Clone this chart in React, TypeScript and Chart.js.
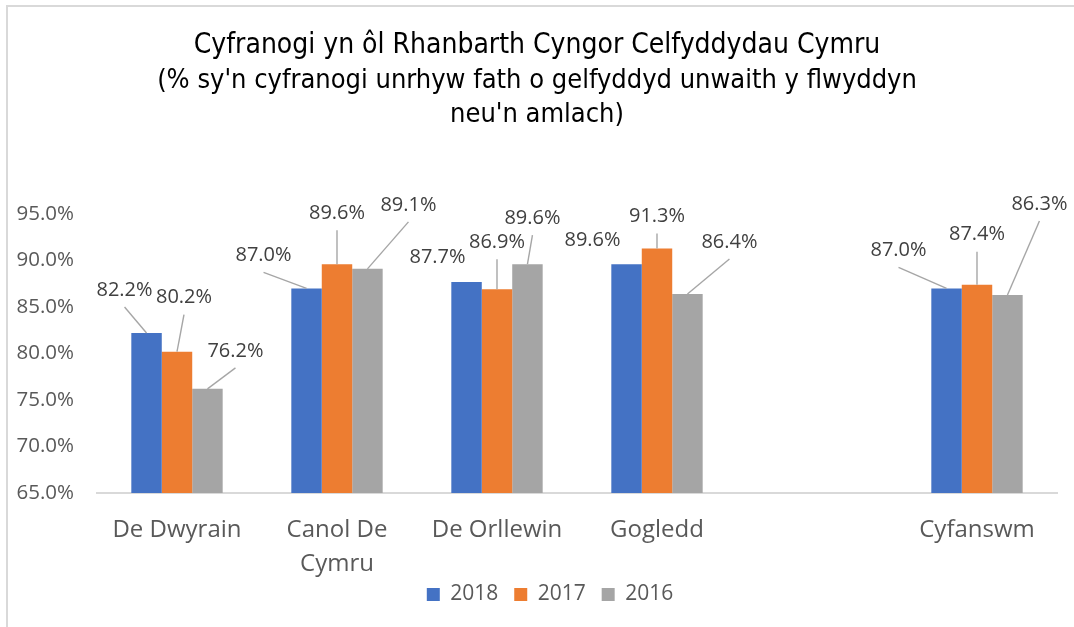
import React, { useEffect, useRef } from "react";
import { Chart, registerables } from "chart.js";

Chart.register(...registerables);

const categories: (string | string[])[] = [
  "De Dwyrain",
  ["Canol De", "Cymru"],
  "De Orllewin",
  "Gogledd",
  "",
  "Cyfanswm",
];

const seriesNames = ["2018", "2017", "2016"];
const values2018: (number | null)[] = [82.2, 87.0, 87.7, 89.6, null, 87.0];
const values2017: (number | null)[] = [80.2, 89.6, 86.9, 91.3, null, 87.4];
const values2016: (number | null)[] = [76.2, 89.1, 89.6, 86.4, null, 86.3];
const seriesColors = ["#4472C4", "#ED7D31", "#A5A5A5"];

const yMin = 65;
const yMax = 95;
const yStep = 5;

const titleText = "Cyfranogi yn ôl Rhanbarth Cyngor Celfyddydau Cymru";
const subtitleText = [
  "(% sy'n cyfranogi unrhyw fath o gelfyddyd unwaith y flwyddyn",
  "neu'n amlach)",
];

// data label placement (pixel offset from the top centre of the bar) and leader-line flag
const labelOffsets2018: [number, number, boolean][] = [
  [-22, -43, true], [-43, -33, true], [-29, -25, false], [-34, -24, false], [0, 0, false], [-48, -38, true],
];
const labelOffsets2017: [number, number, boolean][] = [
  [7, -54, true], [0, -51, true], [0, -47, true], [0, -32, true], [0, 0, false], [0, -50, true],
];
const labelOffsets2016: [number, number, boolean][] = [
  [28, -38, true], [41, -64, true], [5, -46, true], [42, -52, true], [0, 0, false], [32, -91, true],
];
const labelOffsets = [labelOffsets2018, labelOffsets2017, labelOffsets2016];

const BODY_FONT = "'Open Sans', 'Noto Sans', 'DejaVu Sans', sans-serif";
const TITLE_FONT = "'DejaVu Sans Condensed', 'Liberation Sans Narrow', 'Liberation Sans', sans-serif";
const LEGEND_SHIFT = 13;

const dataLabelPlugin = {
  id: "dataLabelsWithLeaders",
  afterDatasetsDraw(chart: any) {
    const ctx = chart.ctx;
    ctx.save();
    ctx.font = `20px ${BODY_FONT}`;
    ctx.textAlign = "center";
    ctx.textBaseline = "middle";
    chart.data.datasets.forEach((ds: any, di: number) => {
      const meta = chart.getDatasetMeta(di);
      meta.data.forEach((bar: any, i: number) => {
        const v = ds.data[i];
        if (v === null || v === undefined) return;
        const [dx, dy, line] = labelOffsets[di][i];
        const lx = bar.x + dx;
        const ly = bar.y + dy;
        if (line) {
          ctx.strokeStyle = "#A6A6A6";
          ctx.lineWidth = 1.4;
          ctx.beginPath();
          ctx.moveTo(lx, ly + 17);
          ctx.lineTo(bar.x, bar.y);
          ctx.stroke();
        }
        ctx.fillStyle = "#404040";
        ctx.fillText(v.toFixed(1) + "%", lx, ly);
      });
    });
    ctx.restore();
  },
};

const frameBorderPlugin = {
  id: "frameBorder",
  afterLayout(chart: any) {
    if (chart.legend) {
      chart.legend.left += LEGEND_SHIFT;
      chart.legend.right += LEGEND_SHIFT;
    }
  },
  beforeDraw(chart: any) {
    const ctx = chart.ctx;
    ctx.save();
    ctx.fillStyle = "#FFFFFF";
    ctx.fillRect(0, 0, chart.width, chart.height);
    ctx.strokeStyle = "#D9D9D9";
    ctx.lineWidth = 2;
    ctx.beginPath();
    ctx.moveTo(7, chart.height);
    ctx.lineTo(7, 6);
    ctx.lineTo(chart.width, 6);
    ctx.stroke();
    ctx.restore();
  },
};

export default function App() {
  const canvasRef = useRef<HTMLCanvasElement | null>(null);

  useEffect(() => {
    if (!canvasRef.current) return;
    const chart = new Chart(canvasRef.current, {
      type: "bar",
      data: {
        labels: categories,
        datasets: [values2018, values2017, values2016].map((vals, k) => ({
          label: seriesNames[k],
          data: vals,
          backgroundColor: seriesColors[k],
          borderWidth: 0,
          categoryPercentage: 0.571,
          barPercentage: 1.0,
        })),
      },
      options: {
        responsive: false,
        animation: false,
        layout: { padding: { left: 17, right: 17, top: 0, bottom: 12 } },
        plugins: {
          title: {
            display: true,
            text: titleText,
            color: "#000000",
            font: { family: TITLE_FONT, size: 28, weight: "normal", lineHeight: "34px" },
            padding: { top: 29, bottom: 0 },
          },
          subtitle: {
            display: true,
            text: subtitleText,
            color: "#000000",
            font: { family: TITLE_FONT, size: 27, weight: "normal", lineHeight: "34px" },
            padding: { top: 1, bottom: 82 },
          },
          legend: {
            display: true,
            position: "bottom",
            labels: {
              color: "#595959",
              font: { family: BODY_FONT, size: 21 },
              boxWidth: 13,
              boxHeight: 13,
              padding: 5,
              generateLabels: (chart: any) => {
                const items = Chart.defaults.plugins.legend.labels.generateLabels(chart);
                return items.map((it: any, idx: number) => ({
                  ...it,
                  text: idx < items.length - 1 ? it.text + "  " : it.text,
                }));
              },
            },
          },
          tooltip: { enabled: false },
        },
        scales: {
          x: {
            grid: { display: false, drawTicks: false },
            border: { display: true, color: "#D9D9D9", width: 2 },
            ticks: {
              color: "#595959",
              font: { family: BODY_FONT, size: 24, lineHeight: "34px" },
              padding: 20,
              maxRotation: 0,
              autoSkip: false,
            },
            afterFit: (scale: any) => {
              scale.height = 86;
            },
          },
          y: {
            min: yMin,
            max: yMax,
            grid: { display: false, drawTicks: false },
            border: { display: false },
            ticks: {
              stepSize: yStep,
              color: "#595959",
              font: { family: BODY_FONT, size: 20.5 },
              padding: 23,
              callback: (v: any) => Number(v).toFixed(1) + "%",
            },
            afterFit: (scale: any) => {
              scale.width = 80;
            },
          },
        },
      },
      plugins: [frameBorderPlugin, dataLabelPlugin],
    });
    return () => chart.destroy();
  }, []);

  return (
    <div style={{ position: "absolute", left: 0, top: 0, width: 1074, height: 627 }}>
      <canvas ref={canvasRef} width={1074} height={627} />
    </div>
  );
}
